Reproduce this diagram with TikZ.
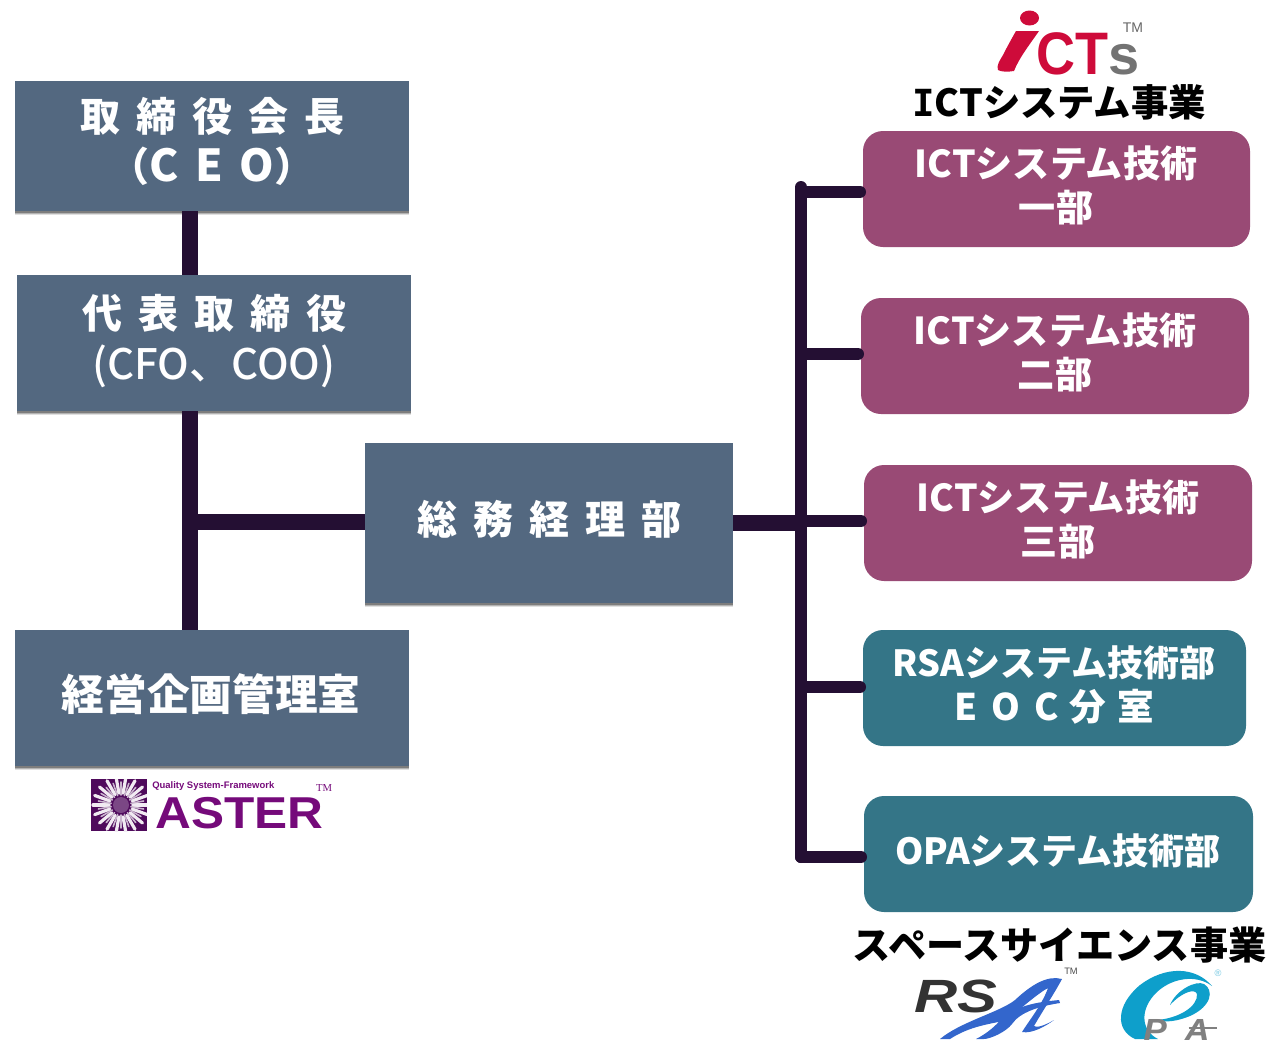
\documentclass[tikz,border=0pt]{standalone}
\usepackage{fontspec}
\usetikzlibrary{shadows,calc}
\newfontfamily\jp{Noto Sans CJK JP}
\newfontfamily\jpm{Noto Sans CJK JP Medium}
\newfontfamily\lat{Liberation Sans}
\newfontfamily\slab{DejaVu Sans Mono}
\definecolor{slate}{HTML}{536880}
\definecolor{plum}{HTML}{994A75}
\definecolor{teal2}{HTML}{347587}
\definecolor{link}{HTML}{240F33}
\definecolor{astp}{HTML}{750A7A}
\definecolor{astd}{HTML}{4F0A5C}
\definecolor{ictr}{HTML}{CE0B3A}
\definecolor{rsab}{HTML}{3366CC}
\definecolor{opat}{HTML}{0E9FCB}
\tikzset{
  x=0.75pt,y=-0.75pt,
  box/.style 2 args={anchor=north west,inner sep=0,outer sep=0,minimum width=#1*0.75pt,minimum height=#2*0.75pt},
  execbox/.style={fill=slate,draw=none,
    drop shadow={shadow xshift=0pt,shadow yshift=-3.2pt,opacity=.12,fill=black},
    drop shadow={shadow xshift=0pt,shadow yshift=-2.3pt,opacity=.2,fill=black},
    drop shadow={shadow xshift=0pt,shadow yshift=-1.3pt,opacity=.3,fill=black}},
  plumbox/.style={fill=plum,rounded corners=15pt},
  tealbox/.style={fill=teal2,rounded corners=15pt},
  boxtext/.style={text=white,font=\jp\bfseries,align=center,inner sep=0},
  heading/.style={text=black,font=\jp\bfseries,inner sep=0},
  logotext/.style={inner sep=0,font=\lat\bfseries},
  wire/.style={draw=link,line width=11.5pt},
  wirethin/.style={draw=link,line width=9pt,line cap=round,shorten >=2.25pt},
}
\newcommand{\pxs}[1]{\fontsize{#1}{#1}\selectfont}
\begin{document}
\begin{tikzpicture}
\useasboundingbox (0,0) rectangle (1266,1039);
% boxes
\node[box={394}{130},execbox] (ceo) at (15,81) {};
\node[box={394}{136},execbox] (rep) at (17,275) {};
\node[box={368}{160},execbox] (gen) at (365,443) {};
\node[box={394}{136},execbox] (plan) at (15,630) {};
\node[box={387}{116},plumbox] (d1) at (863,131) {};
\node[box={388}{116},plumbox] (d2) at (861,298) {};
\node[box={388}{116},plumbox] (d3) at (864,465) {};
\node[box={383}{116},tealbox] (d4) at (863,630) {};
\node[box={389}{116},tealbox] (d5) at (864,796) {};
% connector guide points
\coordinate (lx) at (190,0);
\coordinate (tx) at (801,0);
\coordinate (tt) at (801,187);
\coordinate (tb) at (801,857);
\coordinate (ljoin) at (190,522);
\coordinate (rjoin) at (801,523);
\coordinate (b1) at (801,192);
% connectors
\draw[wire] (ceo.south -| lx) -- (rep.north -| lx);
\draw[wire] (rep.south -| lx) -- (plan.north -| lx);
\draw[wire] (ljoin) -- (ljoin -| gen.west);
\draw[wire] (rjoin -| gen.east) -- (rjoin);
\draw[draw=link,line width=9pt,line join=round,line cap=round] (tt) -- (tb);
\draw[wirethin] (b1) -- (b1 -| d1.west);
\draw[wirethin] ([yshift=1.5pt]tx |- d2.west) -- ([yshift=1.5pt]d2.west);
\draw[wirethin] ([yshift=1.5pt]tx |- d3.west) -- ([yshift=1.5pt]d3.west);
\draw[wirethin] ([yshift=.75pt]tx |- d4.west) -- ([yshift=.75pt]d4.west);
\draw[wirethin] (tb) -- (tb -| d5.west);
% box labels
\node[boxtext] (t1) at (212,116) {\pxs{30}\addfontfeature{LetterSpace=40}取締役会長};
\node[boxtext] (t2) at (212,166) {\pxs{30}（\pxs{33}C\hspace{.38em}E\hspace{.38em}O\pxs{30}）};
\node[boxtext] (t3) at (214,313) {\pxs{30}\addfontfeature{LetterSpace=40}代表取締役};
\node[boxtext,font=\jpm] (t4) at (214,366) {\pxs{31.5}(CFO、COO)};
\node[boxtext] (t5) at (549,519) {\pxs{30}\addfontfeature{LetterSpace=40}総務経理部};
\node[boxtext] (t6) at (211,694) {\pxs{32}経営企画管理室};
\node[boxtext] (t7) at (1056,163) {\pxs{27.8}{\jpm ICT}システム技術};
\node[boxtext] (t8) at (1056,208) {\pxs{27.8}一部};
\node[boxtext] (t9) at (1055,330) {\pxs{27.8}{\jpm ICT}システム技術};
\node[boxtext] (t10) at (1055,375) {\pxs{27.8}二部};
\node[boxtext] (t11) at (1058,497) {\pxs{27.8}{\jpm ICT}システム技術};
\node[boxtext] (t12) at (1058,542) {\pxs{27.8}三部};
\node[boxtext] (t13) at (1054,663) {\pxs{27}RSAシステム技術部};
\node[boxtext] (t14) at (1054,707) {\pxs{27.5}E\hspace{.38em}O\hspace{.38em}C\hspace{.3em}分\hspace{.3em}室};
\node[boxtext] (t15) at (1058,851) {\pxs{27}OPAシステム技術部};
% headings
\node[heading] (h1) at (1059,102) {\pxs{28}{\slab\bfseries I}CTシステム事業};
\node[heading] (h2) at (1059.5,945) {\pxs{28.6}スペースサイエンス事業};
% iCTs logo
\fill[ictr] (1016,31) -- (1039,31) .. controls (1030,44) and (1019,58) .. (1014,71) .. controls (1008,72) and (1001,72) .. (998,70) .. controls (996,66) and (1000,60) .. (1003,55) .. controls (1007,47) and (1012,38) .. (1016,31) -- cycle;
\fill[ictr] (1029.5,18) circle[x radius=9.5,y radius=7.5];
\node[logotext,text=ictr,anchor=base west,xscale=.9] (ct) at (1036,74) {\pxs{45}CT};
\node[logotext,text=black!55,anchor=base west] (sl) at (1108,74) {\pxs{42}s};
\node[inner sep=0,text=black!60,font=\lat] (tm1) at (1133,28) {\pxs{10.5}TM};
% ASTER logo
\fill[astd] (91,779) rectangle (147,831);
\begin{scope}
\clip (91,779) rectangle (147,831);
\foreach \a in {0,20,...,340}{
  \draw[white!92!astd,line width=2.4pt,line cap=round] (121,805) ++(\a:12) -- ++(\a:16);
}
\foreach \a in {10,30,...,350}{
  \draw[white!70!astd,line width=1.2pt,line cap=round] (121,805) ++(\a:10) -- ++(\a:13);
}
\fill[astd!75!white] (121,805) circle (8);
\end{scope}
\node[logotext,text=astp,anchor=base west] (q1) at (152,788) {\pxs{7.1}Quality System-Framework};
\node[logotext,text=astp,anchor=base west,xscale=1.11] (q2) at (155,828) {\pxs{33.5}ASTER};
\node[inner sep=0,text=astp,font=\fontspec{Liberation Serif}] (tm2) at (324,788) {\pxs{8}TM};
% RSA logo
\begin{scope}
\clip (900,960) rectangle (1266,1039);
\node[logotext,text=black!80,anchor=base west,font=\lat\bfseries\itshape,xscale=1.28] (rs) at (914,1012) {\pxs{35}RS};
\fill[rsab] (1062,979) .. controls (1048,975) and (1032,984) .. (1015,1000) .. controls (1000,1012) and (960,1022) .. (940,1039) -- (950,1039) .. controls (970,1026) and (990,1024) .. (1008,1020) .. controls (1018,1010) and (1040,992) .. (1048,988) .. controls (1042,1005) and (1028,1022) .. (1022,1032) .. controls (1032,1034) and (1046,1026) .. (1054,1020) .. controls (1044,1026) and (1036,1028) .. (1034,1026) .. controls (1042,1012) and (1054,994) .. (1062,979) -- cycle;
\fill[rsab] (1002,1018) .. controls (1020,1004) and (1040,1002) .. (1059,1000) -- (1060,1003) .. controls (1040,1006) and (1020,1012) .. (1012,1024) .. controls (1006,1032) and (990,1039) .. (984,1039) -- (976,1039) .. controls (986,1034) and (996,1026) .. (1002,1018) -- cycle;
\end{scope}
\node[inner sep=0,text=black!70,font=\lat] (tm3) at (1071,971) {\pxs{7}TM};
% O2 logo
\begin{scope}
\clip (1100,960) rectangle (1266,1039);
\fill[opat] (1212,986) .. controls (1195,966) and (1165,966) .. (1140,985) .. controls (1116,1005) and (1115,1030) .. (1135,1039) -- (1158,1039) .. controls (1140,1030) and (1140,1008) .. (1157,992) .. controls (1172,978) and (1196,974) .. (1212,986) -- cycle;
\fill[opat] (1170,1005) .. controls (1176,990) and (1196,980) .. (1204,984) .. controls (1214,990) and (1212,1006) .. (1190,1016) .. controls (1178,1021) and (1165,1023) .. (1157,1020) .. controls (1180,1018) and (1198,1006) .. (1197,994) .. controls (1195,988) and (1182,992) .. (1170,1005) -- cycle;
\node[logotext,text=black!50,anchor=base west,font=\lat\bfseries\itshape,xscale=1.1] (pa) at (1143,1041) {\pxs{24}P\hspace{.5em}A};
\draw[black!50,line width=1.5pt] (pa.center) ++(12,-2) coordinate (bar) (bar) -- ++(28,0);
\end{scope}
\node[inner sep=0,text=opat!60,font=\lat] (tm4) at (1218,973) {\pxs{7}®};
\end{tikzpicture}
\end{document}
